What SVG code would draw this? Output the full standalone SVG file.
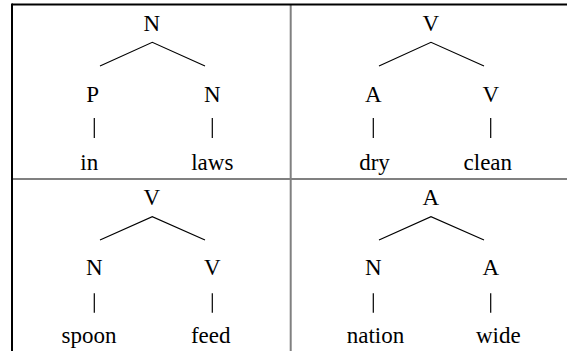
<svg xmlns="http://www.w3.org/2000/svg" width="567" height="351" viewBox="0 0 567 351">
<style>
text{font-family:"Liberation Serif","DejaVu Serif",serif;font-size:23px;fill:#000;text-anchor:middle}
.e{stroke:#000;stroke-width:1.2;fill:none}
.g{stroke:#808080;stroke-width:2;fill:none}
.b{stroke:#000;stroke-width:2;fill:none}
</style>
<rect width="567" height="351" fill="#fff"/>
<g id="grid">
<line class="g" x1="290.7" y1="5" x2="290.7" y2="351"/>
<line class="g" x1="12" y1="179" x2="567" y2="179"/>
<line class="b" x1="12" y1="4.5" x2="567" y2="4.5"/>
<line class="b" x1="12" y1="3.5" x2="12" y2="351"/>
</g>
<g id="connectors">
<polyline class="e" points="100,66 152.3,42.3 205,66"/>
<line class="e" x1="94.3" y1="118" x2="94.3" y2="138"/>
<line class="e" x1="212.3" y1="118" x2="212.3" y2="138"/>
<polyline class="e" points="379,66 431,42.3 484,66"/>
<line class="e" x1="373.3" y1="118" x2="373.3" y2="138"/>
<line class="e" x1="490.7" y1="118" x2="490.7" y2="138"/>
<polyline class="e" points="100,240 152.3,216.7 205,240"/>
<line class="e" x1="94.3" y1="293.3" x2="94.3" y2="312.7"/>
<line class="e" x1="212.3" y1="293.3" x2="212.3" y2="312.7"/>
<polyline class="e" points="379,240 431,216.7 484,240"/>
<line class="e" x1="373.3" y1="293.3" x2="373.3" y2="312.7"/>
<line class="e" x1="490.7" y1="293.3" x2="490.7" y2="312.7"/>
</g>
<g id="t1-root"><text x="151.7" y="30.5">N</text></g>
<g id="t1-left"><text x="92.7" y="101.7">P</text></g>
<g id="t1-right"><text x="212.3" y="101.7">N</text></g>
<g id="t1-w1"><text x="89.3" y="170">in</text></g>
<g id="t1-w2"><text x="212.3" y="170">laws</text></g>
<g id="t2-root"><text x="430.7" y="30.5">V</text></g>
<g id="t2-left"><text x="373.3" y="101.7">A</text></g>
<g id="t2-right"><text x="490.7" y="101.7">V</text></g>
<g id="t2-w1"><text x="374.5" y="170">dry</text></g>
<g id="t2-w2"><text x="487.8" y="170">clean</text></g>
<g id="t3-root"><text x="151.7" y="205">V</text></g>
<g id="t3-left"><text x="94.3" y="275">N</text></g>
<g id="t3-right"><text x="212.3" y="275">V</text></g>
<g id="t3-w1"><text x="89" y="343.3">spoon</text></g>
<g id="t3-w2"><text x="210.7" y="343.3">feed</text></g>
<g id="t4-root"><text x="430.7" y="205">A</text></g>
<g id="t4-left"><text x="373.3" y="275">N</text></g>
<g id="t4-right"><text x="490.7" y="275">A</text></g>
<g id="t4-w1"><text x="375.5" y="343.3">nation</text></g>
<g id="t4-w2"><text x="498.3" y="343.3">wide</text></g>
</svg>
